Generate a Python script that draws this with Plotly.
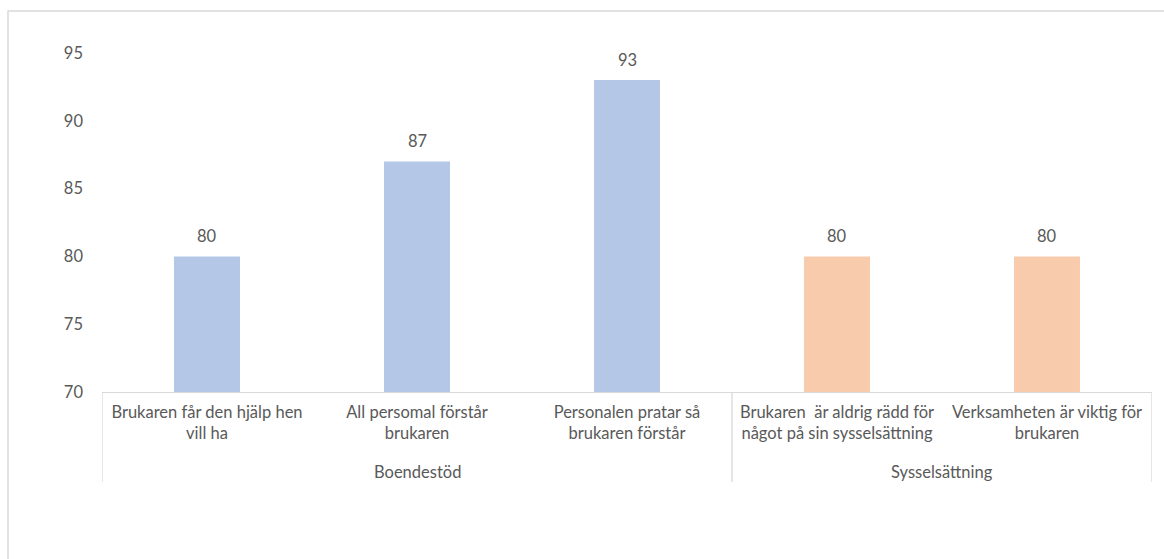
import plotly.graph_objects as go

# Survey results per statement, grouped by service area
categories = [
    "Brukaren får den hjälp hen<br>vill ha",
    "All persomal förstår<br>brukaren",
    "Personalen pratar så<br>brukaren förstår",
    "Brukaren  är aldrig rädd för<br>något på sin sysselsättning",
    "Verksamheten är viktig för<br>brukaren",
]
groups = ["Boendestöd", "Boendestöd", "Boendestöd", "Sysselsättning", "Sysselsättning"]
values = [80, 87, 93, 80, 80]
y_ticks = [70, 75, 80, 85, 90, 95]

group_colors = {"Boendestöd": "#B4C7E7", "Sysselsättning": "#F8CBAD"}

W, H = 1164, 559
L, R, T, B = 102, 12, 53, 167
PW, PH = W - L - R, H - T - B

def px_x(x):
    return (x - L) / PW

def px_y(y):
    return (H - B - y) / PH

TEXT = "#595959"
LINE = "#D9D9D9"
FONT = "Lato, 'Open Sans', sans-serif"
FS = 16.5

xs = list(range(len(categories)))

fig = go.Figure(
    go.Bar(
        x=xs,
        y=values,
        base=0,
        marker=dict(color=[group_colors[g] for g in groups], line=dict(width=0)),
        width=0.314,
        hoverinfo="skip",
    )
)

# value labels above each bar
for x, v in zip(xs, values):
    fig.add_annotation(
        x=x, y=v, text=str(v), showarrow=False, yanchor="bottom", yshift=8,
        font=dict(family=FONT, size=FS, color=TEXT),
    )

# group labels and dividers for the two-level category axis
group_names = []
for g in groups:
    if g not in group_names:
        group_names.append(g)
bounds = [-0.5]
for g in group_names:
    idx = [i for i, gg in enumerate(groups) if gg == g]
    fig.add_annotation(
        x=(idx[0] + idx[-1]) / 2, y=px_y(472), yref="paper", text=g, showarrow=False,
        yanchor="middle", font=dict(family=FONT, size=FS, color=TEXT),
    )
    bounds.append(idx[-1] + 0.5)
for b in bounds:
    fig.add_shape(
        type="line", xref="x", yref="paper", x0=b, x1=b, y0=0, y1=px_y(482),
        line=dict(color=LINE, width=1.3),
    )

# chart frame
fig.add_shape(
    type="rect", xref="paper", yref="paper",
    x0=px_x(8), x1=px_x(W + 5), y0=px_y(H + 5), y1=px_y(11),
    line=dict(color=LINE, width=1.5), fillcolor="rgba(0,0,0,0)", layer="below",
)

fig.update_layout(
    width=W, height=H,
    margin=dict(l=L, r=R, t=T, b=B),
    paper_bgcolor="white", plot_bgcolor="white",
    showlegend=False,
    font=dict(family=FONT, size=FS, color=TEXT),
    xaxis=dict(
        range=[-0.5, len(categories) - 0.5],
        tickmode="array", tickvals=xs, ticktext=categories,
        showline=True, linecolor=LINE, linewidth=1.3,
        showgrid=False, zeroline=False, ticks="",
        ticklabelstandoff=5,
        tickfont=dict(family=FONT, size=FS, color=TEXT),
    ),
    yaxis=dict(
        range=[70, 95], tickvals=y_ticks,
        showline=False, showgrid=False, zeroline=False, ticks="",
        ticklabelstandoff=18,
        tickfont=dict(family=FONT, size=FS, color=TEXT),
    ),
)

fig.write_html("out.html")
